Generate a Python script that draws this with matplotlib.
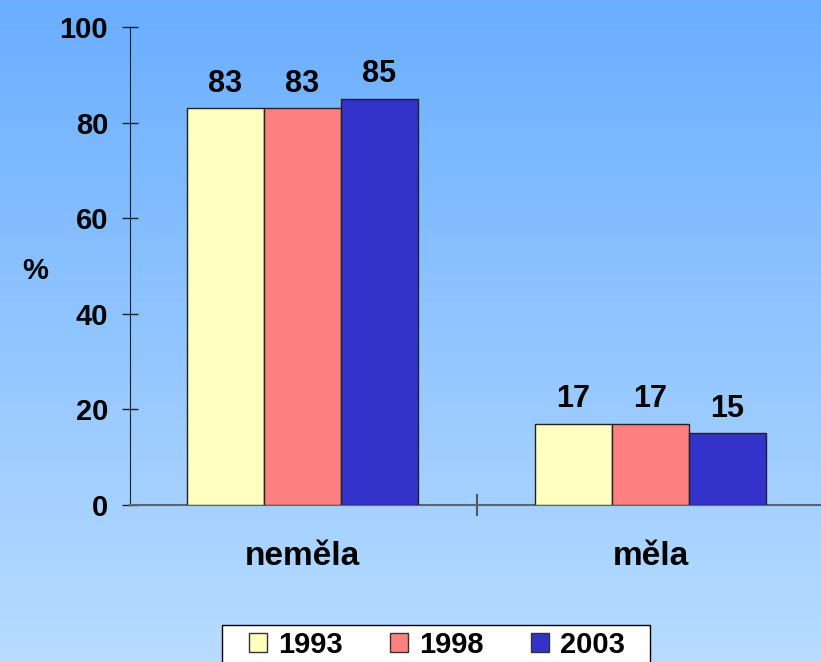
import numpy as np
import matplotlib
matplotlib.use("Agg")
import matplotlib.pyplot as plt
from matplotlib.patches import Patch, Rectangle

categories = ["neměla", "měla"]
years = ["1993", "1998", "2003"]
values = {
    "1993": [83, 17],
    "1998": [83, 17],
    "2003": [85, 15],
}
colors = ["#ffffc0", "#ff8080", "#3333cc"]
yticks = [0, 20, 40, 60, 80, 100]

plt.rcParams['font.family'] = ['Liberation Sans', 'DejaVu Sans']
plt.rcParams['font.weight'] = 'bold'
FS = 21

W, H = 821, 662
fig = plt.figure(figsize=(W / 100, H / 100), dpi=100)

# gradient background
bg = fig.add_axes([0, 0, 1, 1], zorder=-10)
top = np.array([106, 174, 255]) / 255
bot = np.array([184, 220, 255]) / 255
t = np.linspace(0, 1, 256)[:, None]
grad = top * (1 - t) + bot * t
bg.imshow(grad[:, None, :], aspect='auto', extent=[0, 1, 0, 1], origin='upper')
bg.set_axis_off()

ax = fig.add_axes([130 / W, 1 - 505 / H, 696 / W, 478 / H])
ax.patch.set_alpha(0)
x = np.arange(len(categories))
bw = 77 / 348
for i, (yr, c) in enumerate(zip(years, colors)):
    pos = x + (i - 1) * bw
    bars = ax.bar(pos, values[yr], bw, color=c, edgecolor='#222222', linewidth=1, zorder=3)
    for b, v in zip(bars, values[yr]):
        ax.annotate(str(v), (b.get_x() + b.get_width() / 2, v), xytext=(0, 7),
                    textcoords='offset points', ha='center', va='bottom',
                    fontsize=22, fontweight='bold')

ax.set_xlim(-0.4957, 1.5043)
ax.set_ylim(0, 100)
ax.set_yticks(yticks)
ax.set_yticklabels([str(v) for v in yticks], fontsize=FS, fontweight='bold')
ax.set_xticks([0.5])
ax.set_xticklabels([''])
ax.tick_params(axis='y', direction='inout', length=11.5, width=1, color='#222222', pad=10)
ax.tick_params(axis='x', direction='inout', length=16, width=1.5, color='#555566')
for sp in ['top', 'right']:
    ax.spines[sp].set_visible(False)
ax.spines['left'].set_color('#222222')
ax.spines['bottom'].set_color('#556677')
ax.spines['bottom'].set_linewidth(1.5)

for xi, cat in zip(x, categories):
    ax.text(xi, -10.8, cat, ha='center', va='center', fontsize=24, fontweight='bold',
            transform=ax.transData)

fig.text(35 / W, 1 - 271 / H, "%", ha='center', va='center', fontsize=FS, fontweight='bold')

# legend frame
fig.patches.append(Rectangle((222 / W, -0.02), 428 / W, (H - 625) / H + 0.02,
                             transform=fig.transFigure, facecolor='white',
                             edgecolor='black', linewidth=1, zorder=1))
handles = [Patch(facecolor=c, edgecolor='#333333', label=yr) for yr, c in zip(years, colors)]
leg = fig.legend(handles=handles, loc='center', bbox_to_anchor=(437 / W, 1 - 645 / H),
                 ncol=3, frameon=False, prop={'size': FS, 'weight': 'bold'},
                 handlelength=0.62, handleheight=0.62, handletextpad=0.4, columnspacing=1.6,
                 borderpad=0.0, borderaxespad=0.0)
leg.set_zorder(5)

fig.savefig("out.png", dpi=100)
